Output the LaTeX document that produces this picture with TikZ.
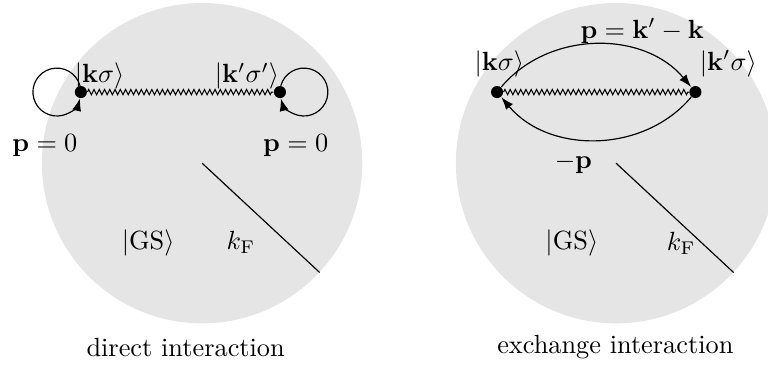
\documentclass[tikz,border=0pt]{standalone}
\usepackage{amsmath}
\usepackage{tikz}
\usetikzlibrary{arrows.meta,decorations.pathmorphing}
\tikzset{
  dot/.style={circle, fill=black, minimum size=4.6pt, inner sep=0pt},
  thinarrow/.style={-{Latex[length=1.7mm,width=1.2mm]}, line width=0.45pt},
  wiggle/.style={decorate, decoration={zigzag, segment length=2pt, amplitude=1pt}, line width=0.4pt},
  sea/.style={fill=black!10}
}

\begin{document}
\begin{tikzpicture}[lbl/.style={inner sep=1pt}]
\clip (0,0) rectangle (10.26,4.88);
% Fermi seas
\coordinate (cL) at (2.70,2.70);
\coordinate (cR) at (8.23,2.70);
\fill[sea] (cL) circle (2.14);
\fill[sea] (cR) circle (2.14);
\coordinate (fL) at (4.27,1.24);
\coordinate (fR) at (9.80,1.24);
\draw[line width=0.45pt] (cL) -- (fL);
\draw[line width=0.45pt] (cR) -- (fR);
% direct interaction
\node[dot] (dk) at (1.08,3.65) {};
\node[dot] (dkp) at (3.74,3.65) {};
\draw[wiggle] (dk) -- (dkp);
\draw[thinarrow] ([shift={(-0.011,0.083)}]dk.center) arc[start angle=15, end angle=345, radius=0.32];
\draw[thinarrow] ([shift={(0.011,0.083)}]dkp.center) arc[start angle=165, end angle=-165, radius=0.32];
\node[lbl] (dkl) at (1.33,3.86) {$|\mathbf{k}\sigma\rangle$};
\node[lbl] (dkpl) at (3.30,3.86) {$|\mathbf{k}'\sigma'\rangle$};
\node[lbl] (dp1) at (0.60,2.94) {$\mathbf{p}=0$};
\node[lbl] (dp2) at (3.95,2.94) {$\mathbf{p}=0$};
\node[lbl] (dgs) at (1.98,1.64) {$|\mathrm{GS}\rangle$};
\node[lbl] (dkf) at (3.22,1.64) {$k_{\mathrm{F}}$};
\node (dcap) at (2.48,0.24) {direct interaction};
% exchange interaction
\node[dot] (ek) at (6.64,3.65) {};
\node[dot] (ekp) at (9.29,3.65) {};
\draw[wiggle] (ek) -- (ekp);
\draw[thinarrow] (ek) to[bend left=50] (ekp);
\draw[thinarrow] (ekp) to[bend left=50] (ek);
\node[lbl] (ep) at (8.58,4.47) {$\mathbf{p}=\mathbf{k}'-\mathbf{k}$};
\node[lbl] (ekl) at (6.67,4.03) {$|\mathbf{k}\sigma\rangle$};
\node[lbl] (ekpl) at (9.73,4.03) {$|\mathbf{k}'\sigma\rangle$};
\node[lbl] (emp) at (7.66,2.70) {$-\mathbf{p}$};
\node[lbl] (egs) at (7.64,1.63) {$|\mathrm{GS}\rangle$};
\node[lbl] (ekf) at (9.10,1.63) {$k_{\mathrm{F}}$};
\node (ecap) at (8.22,0.24) {exchange interaction};
\end{tikzpicture}
\end{document}
